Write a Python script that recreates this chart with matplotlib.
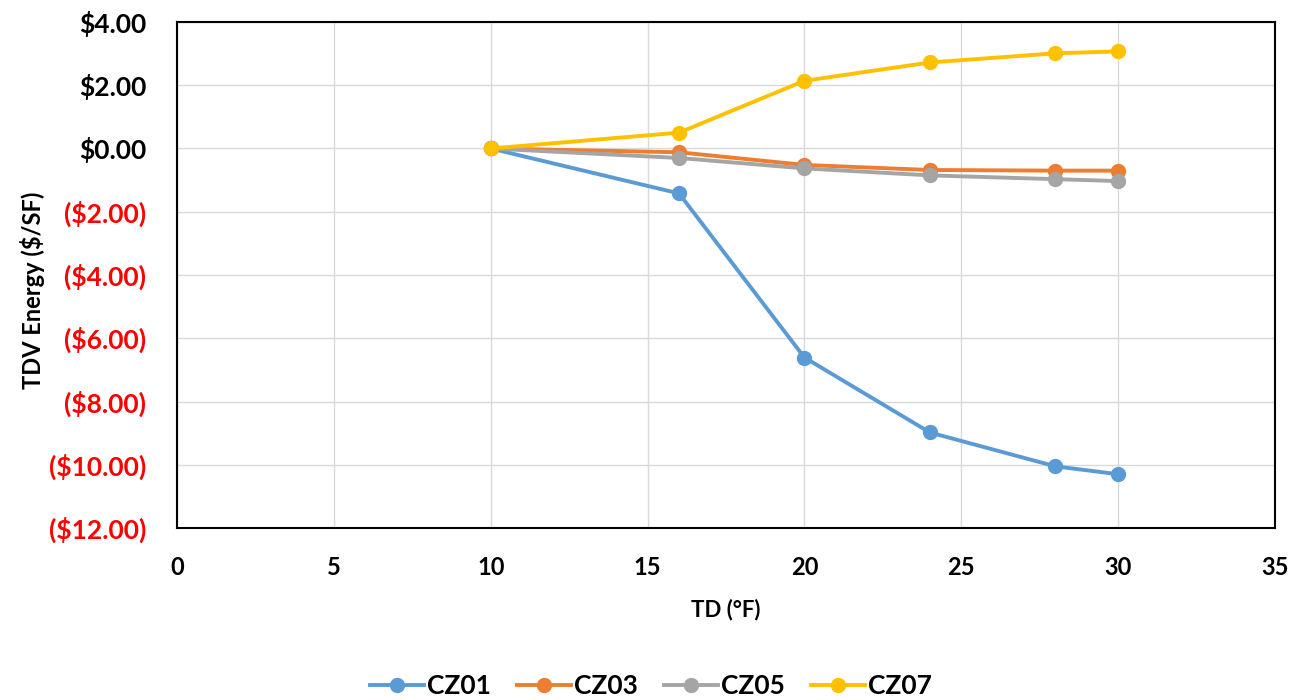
import matplotlib.pyplot as plt
from matplotlib.ticker import FuncFormatter

plt.rcParams['font.family'] = ['Lato', 'DejaVu Sans']
plt.rcParams['font.weight'] = 'bold'

# TD (°F) and TDV energy savings ($/SF) per climate zone
td = [10, 16, 20, 24, 28, 30]
cz01 = [0.0, -1.42, -6.61, -8.98, -10.05, -10.30]
cz03 = [0.0, -0.12, -0.52, -0.68, -0.70, -0.70]
cz05 = [0.0, -0.30, -0.63, -0.85, -0.97, -1.03]
cz07 = [0.0, 0.50, 2.14, 2.72, 3.01, 3.07]

series = [('CZ01', cz01, '#5b9bd5'),
          ('CZ03', cz03, '#ed7d31'),
          ('CZ05', cz05, '#a5a5a5'),
          ('CZ07', cz07, '#ffc000')]

fig = plt.figure(figsize=(12.96, 7), dpi=100)
ax = fig.add_axes([0.1366, 0.2457, 0.8472, 0.7229])

for name, vals, col in series:
    ax.plot(td, vals, color=col, linewidth=2.8, marker='o', markersize=10, label=name)

ax.set_xlim(0, 35)
ax.set_ylim(-12, 4)
ax.set_xticks(range(0, 36, 5))
ax.set_yticks(range(-12, 5, 2))


def money(v, pos):
    if v < 0:
        return f'(${-v:.2f})'
    return f'${v:.2f}'


ax.yaxis.set_major_formatter(FuncFormatter(money))
ax.tick_params(axis='y', length=0, labelsize=19, pad=22)
ax.tick_params(axis='x', length=0, labelsize=17, pad=20)
for lbl, v in zip(ax.get_yticklabels(), ax.get_yticks()):
    if v < 0:
        lbl.set_color('#ff0000')

ax.grid(True, color='#d9d9d9', linewidth=1)
ax.set_axisbelow(True)
for s in ax.spines.values():
    s.set_color('black')
    s.set_linewidth(1.5)

ax.set_xlabel('TD (°F)', fontsize=16, fontweight='bold', labelpad=14)
ax.set_ylabel('TDV Energy ($/SF)', fontsize=17, fontweight='bold')
ax.yaxis.set_label_coords(-0.12, 0.47)

fig.legend(loc='center', bbox_to_anchor=(0.502, 0.02), ncol=4, frameon=False,
           fontsize=19, handlelength=2.05, columnspacing=1.0, handletextpad=0.1)

fig.savefig('out.png', dpi=100)
plt.close()
